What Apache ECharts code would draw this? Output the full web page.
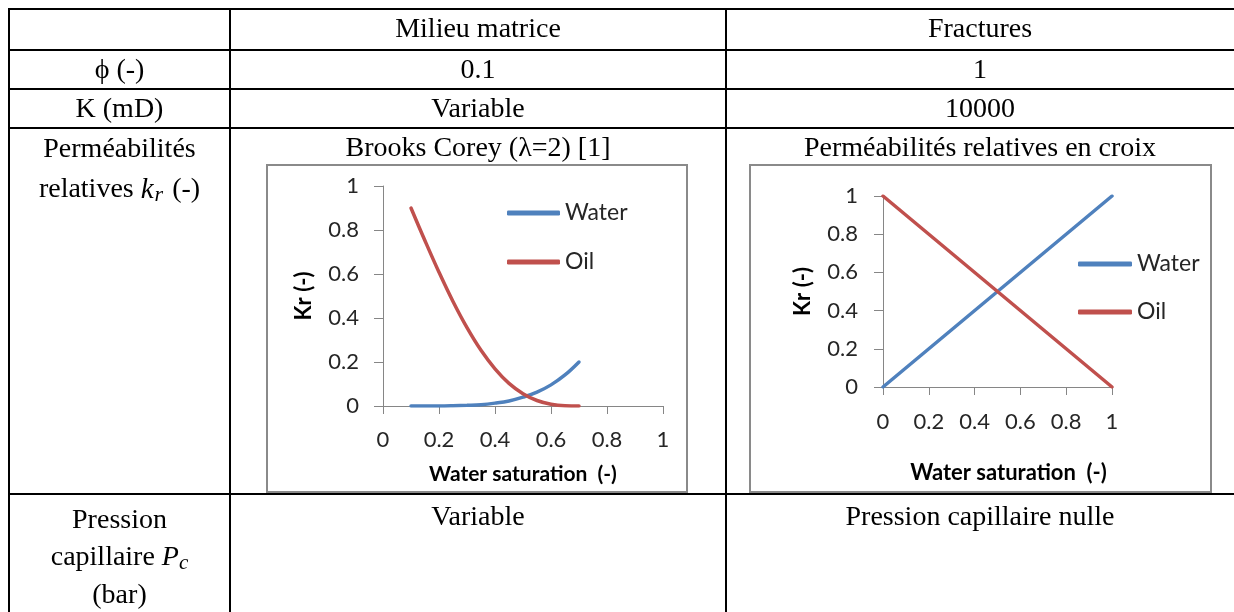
<!DOCTYPE html>
<html>
<head>
<meta charset="utf-8">
<script src="https://cdn.jsdelivr.net/npm/echarts@6/dist/echarts.min.js"></script>
<style>
  html, body { margin: 0; padding: 0; background: #fff; }
  #main { width: 1234px; height: 612px; }
</style>
</head>
<body>
<div id="main"></div>
<script>
// Relative permeability, matrix (Brooks-Corey, lambda = 2)
const swMatrix  = [0.10, 0.15, 0.20, 0.25, 0.30, 0.35, 0.40, 0.45, 0.50, 0.55, 0.60, 0.65, 0.70];
const krwMatrix = [0.000, 0.000, 0.000, 0.001, 0.003, 0.006, 0.013, 0.023, 0.040, 0.063, 0.096, 0.141, 0.200];
const kroMatrix = [0.900, 0.751, 0.608, 0.475, 0.356, 0.253, 0.169, 0.103, 0.056, 0.025, 0.008, 0.001, 0.000];

// Relative permeability, fractures (cross curves)
const swFracture  = [0, 1];
const krwFracture = [0, 1];
const kroFracture = [1, 0];

// Table texts
const headerCols   = ['Milieu matrice', 'Fractures'];
const porosityRow  = ['ϕ (-)', '0.1', '1'];
const permRow      = ['K (mD)', 'Variable', '10000'];
const krTitles     = ['Brooks Corey (λ=2) [1]', 'Perméabilités relatives en croix'];
const pcRow        = ['Variable', 'Pression capillaire nulle'];

const axisTicks = [0, 0.2, 0.4, 0.6, 0.8, 1];
const seriesNames = ['Water', 'Oil'];

const BLUE = '#4F81BD';
const RED = '#C0504D';
const AXIS_GRAY = '#868686';
const SERIF = '"Liberation Serif", "DejaVu Serif", serif';
const SANS = 'Lato, "Open Sans", sans-serif';

function pairs(xs, ys) { return xs.map((x, i) => [x, ys[i]]); }

// table frame
const hLines = [9, 50, 89, 128, 494];
const vLines = [9, 230, 726];
const graphic = [];
hLines.forEach(y => graphic.push({
  type: 'line', shape: { x1: 8, y1: y, x2: 1234, y2: y },
  style: { stroke: '#000', lineWidth: 2 }, silent: true
}));
vLines.forEach(x => graphic.push({
  type: 'line', shape: { x1: x, y1: 8, x2: x, y2: 612 },
  style: { stroke: '#000', lineWidth: 2 }, silent: true
}));

function cellText(text, x, y, extra) {
  graphic.push({
    type: 'text', x: x, y: y, silent: true,
    style: Object.assign({
      text: text, align: 'center', verticalAlign: 'middle',
      font: '28px ' + SERIF, fill: '#000'
    }, extra || {})
  });
}
const colC = [119.5, 478, 980];
cellText(headerCols[0], colC[1], 30);
cellText(headerCols[1], colC[2], 30);
porosityRow.forEach((t, i) => cellText(t, colC[i], 71));
permRow.forEach((t, i) => cellText(t, colC[i], 110));
cellText('Perméabilités', colC[0], 150);
cellText('relatives {k|k}{sub|r} (-)', colC[0], 190, {
  rich: {
    k: { font: 'italic 29px ' + SERIF, fill: '#000' },
    sub: { font: 'italic 22px ' + SERIF, fill: '#000', padding: [10, 2, 0, 1] }
  }
});
cellText(krTitles[0], colC[1], 149);
cellText(krTitles[1], colC[2], 149);
cellText('Pression', colC[0], 521);
cellText('capillaire {p|P}{sub|c}', colC[0], 558, {
  rich: {
    p: { font: 'italic 28px ' + SERIF, fill: '#000' },
    sub: { font: 'italic 21px ' + SERIF, fill: '#000', padding: [10, 0, 0, 0] }
  }
});
cellText('(bar)', colC[0], 596);
cellText(pcRow[0], colC[1], 518);
cellText(pcRow[1], colC[2], 518);

// chart area frames
[[267, 165, 420, 327], [750, 165, 461, 327]].forEach(r => graphic.push({
  type: 'rect', shape: { x: r[0], y: r[1], width: r[2], height: r[3] },
  style: { fill: '#fff', stroke: '#8a8a8a', lineWidth: 2 }, silent: true, z: -1
}));

function valueAxis(gridIndex, tickLen, labelMargin, name, nameGap, extra) {
  return Object.assign({
    type: 'value', gridIndex: gridIndex,
    min: axisTicks[0], max: axisTicks[axisTicks.length - 1], interval: 0.2,
    splitLine: { show: false },
    axisLine: { show: true, lineStyle: { color: AXIS_GRAY, width: 1 } },
    axisTick: { show: true, length: tickLen, lineStyle: { color: AXIS_GRAY } },
    axisLabel: { margin: labelMargin, color: '#262626', fontFamily: SANS, fontSize: 22 },
    name: name, nameLocation: 'middle', nameGap: nameGap,
    nameTextStyle: { fontFamily: SANS, fontWeight: 'bold', fontSize: 21, color: '#000' }
  }, extra || {});
}

const legendText = { fontFamily: SANS, fontSize: 23, color: '#262626', lineHeight: 24 };
const yNameStyle = { fontFamily: SANS, fontWeight: 'bold', fontSize: 22, color: '#000' };

const option = {
  animation: false,
  backgroundColor: '#fff',
  graphic: graphic,
  grid: [
    { left: 383, top: 186, width: 280, height: 220 },
    { left: 883, top: 196, width: 229, height: 191 }
  ],
  xAxis: [
    valueAxis(0, 8, 23, 'Water saturation  (-)', 58),
    valueAxis(1, 8, 24, 'Water saturation  (-)', 75,
      { nameTextStyle: { fontFamily: SANS, fontWeight: 'bold', fontSize: 22, color: '#000', padding: [0, 0, 0, 22] } })
  ],
  yAxis: [
    valueAxis(0, 9, 24, 'Kr (-)', 68, { nameTextStyle: yNameStyle }),
    valueAxis(1, 9, 25, 'Kr (-)', 69, { nameTextStyle: yNameStyle })
  ],
  legend: [
    {
      left: 502, top: 196, orient: 'vertical', data: seriesNames,
      icon: 'roundRect', itemWidth: 53, itemHeight: 5, itemGap: 25,
      selectedMode: false, textStyle: legendText
    },
    {
      left: 1073, top: 247, orient: 'vertical', data: seriesNames,
      icon: 'roundRect', itemWidth: 54, itemHeight: 5, itemGap: 24,
      selectedMode: false, textStyle: legendText
    }
  ],
  series: [
    {
      name: seriesNames[0], type: 'line', xAxisIndex: 0, yAxisIndex: 0,
      data: pairs(swMatrix, krwMatrix), smooth: 0.4, showSymbol: false,
      color: BLUE, lineStyle: { width: 3.5, cap: 'round' }
    },
    {
      name: seriesNames[1], type: 'line', xAxisIndex: 0, yAxisIndex: 0,
      data: pairs(swMatrix, kroMatrix), smooth: 0.4, showSymbol: false,
      color: RED, lineStyle: { width: 3.5, cap: 'round' }
    },
    {
      name: seriesNames[0], type: 'line', xAxisIndex: 1, yAxisIndex: 1,
      data: pairs(swFracture, krwFracture), showSymbol: false,
      color: BLUE, lineStyle: { width: 3.5, cap: 'round' }
    },
    {
      name: seriesNames[1], type: 'line', xAxisIndex: 1, yAxisIndex: 1,
      data: pairs(swFracture, kroFracture), showSymbol: false,
      color: RED, lineStyle: { width: 3.5, cap: 'round' }
    }
  ]
};

const chart = echarts.init(document.getElementById('main'), null, { renderer: 'canvas' });
chart.setOption(option);
</script>
</body>
</html>
